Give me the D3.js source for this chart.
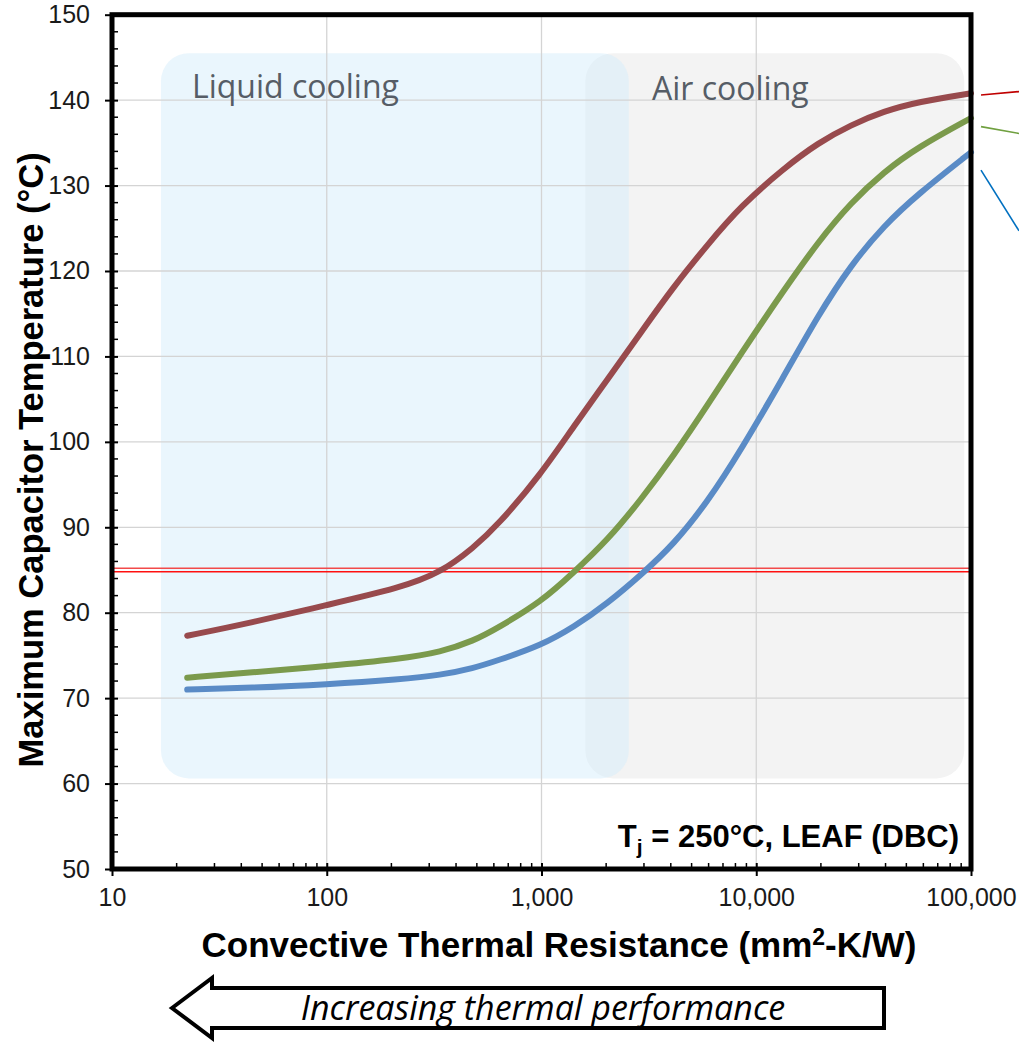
<!DOCTYPE html>
<html><head><meta charset="utf-8">
<script src="https://cdn.jsdelivr.net/npm/d3@7/dist/d3.min.js"></script>
<style>
body{margin:0;background:#fff;}
svg{display:block;}
</style></head>
<body>
<svg id="chart" width="1019" height="1044"></svg>
<script>
// ---- data ----
const xValues = [22.4, 44, 100, 220, 340, 482, 624, 1000, 1410, 2030, 2900, 4130, 5940, 8470, 13400, 19400, 27600, 39300, 56600, 100000];
const redSeries   = [77.3, 78.8, 80.9, 82.9, 84.7, 87.6, 90.2, 96.3, 101.8, 107.3, 112.8, 118.2, 123.1, 127.6, 132.0, 135.0, 137.1, 138.7, 139.8, 140.8];
const greenSeries = [72.4, 73.0, 73.75, 74.6, 75.4, 76.7, 78.2, 81.3, 84.7, 88.5, 93.2, 98.4, 104.3, 110.3, 117.7, 123.4, 128.0, 131.6, 134.5, 137.9];
const blueSeries  = [71.0, 71.2, 71.6, 72.2, 72.7, 73.5, 74.4, 76.2, 78.3, 81.1, 84.4, 88.0, 93.0, 99.0, 107.6, 114.8, 120.7, 125.3, 129.0, 133.9];
const limitValue = 85;
const yTicks = [50, 60, 70, 80, 90, 100, 110, 120, 130, 140, 150];
const yMinorTicks = d3.range(50, 150, 2).filter(v => v % 10 !== 0);
const xTicks = [10, 100, 1000, 10000, 100000];
const xTickLabels = ["10", "100", "1,000", "10,000", "100,000"];
const regions = [
  {label: "Liquid cooling", from: 16.9, to: 2550},
  {label: "Air cooling", from: 1600, to: 93000}
];

// ---- scales ----
const svg = d3.select("#chart");
const L = 112, R = 971, T = 14.7, B = 869;
const x = d3.scaleLog().domain([10, 100000]).range([L, R]);
const y = d3.scaleLinear().domain([50, 150]).range([B, T]);

// ---- shaded regions ----
const regTop = y(145.5), regBot = y(60.6);
svg.append("rect")
  .attr("x", x(regions[1].from)).attr("y", regTop)
  .attr("width", x(regions[1].to) - x(regions[1].from)).attr("height", regBot - regTop)
  .attr("rx", 28).attr("fill", "#f3f3f3");
svg.append("rect")
  .attr("x", x(regions[0].from)).attr("y", regTop)
  .attr("width", x(regions[0].to) - x(regions[0].from)).attr("height", regBot - regTop)
  .attr("rx", 28).attr("fill", "#d6eefc").attr("opacity", 0.5);

// ---- grid ----
const grid = svg.append("g");
grid.selectAll("line.h").data(yTicks).join("line")
  .attr("x1", L).attr("x2", R).attr("y1", d => y(d)).attr("y2", d => y(d))
  .attr("stroke", "#d4d4d4").attr("stroke-width", 1.3);
grid.selectAll("line.v").data(xTicks).join("line")
  .attr("y1", T).attr("y2", B).attr("x1", d => x(d)).attr("x2", d => x(d))
  .attr("stroke", "#d4d4d4").attr("stroke-width", 1.3);

// region labels
svg.append("text").attr("x", x(regions[0].from) + 31).attr("y", y(140) - 2)
  .attr("font-family", "Open Sans").attr("font-size", 32).attr("fill", "#565d66")
  .text(regions[0].label);
svg.append("text").attr("x", 652).attr("y", y(140))
  .attr("font-family", "Open Sans").attr("font-size", 32).attr("fill", "#565d66")
  .text(regions[1].label);

// ---- 85 °C limit double line ----
svg.append("line").attr("x1", L).attr("x2", R + 2)
  .attr("y1", y(limitValue) - 1.7).attr("y2", y(limitValue) - 1.7)
  .attr("stroke", "#f24a4a").attr("stroke-width", 1.5);
svg.append("line").attr("x1", L).attr("x2", R + 2)
  .attr("y1", y(limitValue) + 1.7).attr("y2", y(limitValue) + 1.7)
  .attr("stroke", "#ff1010").attr("stroke-width", 1.5);

// ---- curves ----
const line = d3.line().x(d => x(d[0])).y(d => y(d[1])).curve(d3.curveBasis);
const series = [
  {vals: redSeries, color: "#984a4d"},
  {vals: greenSeries, color: "#7b9a4c"},
  {vals: blueSeries, color: "#5a8bc6"}
];
series.forEach(s => {
  svg.append("path").datum(xValues.map((v, i) => [v, s.vals[i]]))
    .attr("d", line).attr("fill", "none").attr("stroke", s.color)
    .attr("stroke-width", 6).attr("stroke-linecap", "round").attr("stroke-linejoin", "round");
});

// ---- leader lines (right, cut off) ----
const leaders = [
  {y0: 140.6, y1: 141.0, color: "#c00000"},
  {y0: 136.9, y1: 136.1, color: "#70a040"},
  {y0: 131.8, y1: 124.7, color: "#0070c0"}
];
leaders.forEach(l => {
  svg.append("line").attr("x1", R + 10).attr("x2", 1019)
    .attr("y1", y(l.y0)).attr("y2", y(l.y1))
    .attr("stroke", l.color).attr("stroke-width", 1.6);
});

// ---- axes ----
const yAxis = svg.append("g").attr("transform", `translate(${L},0)`)
  .call(d3.axisLeft(y).tickValues(yTicks).tickSize(0).tickPadding(22).tickFormat(d3.format("d")));
yAxis.select(".domain").remove();
yAxis.selectAll("text").attr("font-family", "Liberation Sans, Arial").attr("font-size", 25).attr("fill", "#1a1a1a");
yAxis.selectAll(".tick").append("line").attr("x1", -7).attr("x2", 6).attr("stroke", "#000").attr("stroke-width", 2);
svg.append("g").selectAll("line").data(yMinorTicks).join("line")
  .attr("x1", L).attr("x2", L + 6).attr("y1", d => y(d)).attr("y2", d => y(d))
  .attr("stroke", "#000").attr("stroke-width", 1.5);

const xAxis = svg.append("g").attr("transform", `translate(0,${B})`)
  .call(d3.axisBottom(x).tickValues(xTicks).tickSize(0).tickPadding(19).tickFormat((d, i) => xTickLabels[i]));
xAxis.select(".domain").remove();
xAxis.selectAll("text").attr("font-family", "Liberation Sans, Arial").attr("font-size", 25).attr("fill", "#1a1a1a");
xAxis.selectAll(".tick").append("line").attr("y1", -6).attr("y2", 7).attr("stroke", "#000").attr("stroke-width", 2);
const xMinor = [];
[10, 100, 1000, 10000].forEach(dec => { for (let k = 2; k <= 9; k++) xMinor.push(dec * k); });
svg.append("g").selectAll("line").data(xMinor).join("line")
  .attr("x1", d => x(d)).attr("x2", d => x(d)).attr("y1", B).attr("y2", B - 6)
  .attr("stroke", "#000").attr("stroke-width", 1.5);

// frame
svg.append("rect").attr("x", L).attr("y", T).attr("width", R - L).attr("height", B - T)
  .attr("fill", "none").attr("stroke", "#000").attr("stroke-width", 5);

// ---- annotation ----
const ann = svg.append("text").attr("x", R - 12).attr("y", y(50) - 22).attr("text-anchor", "end")
  .attr("font-family", "Liberation Sans, Arial").attr("font-weight", "bold").attr("font-size", 31).attr("fill", "#000");
ann.append("tspan").text("T");
ann.append("tspan").attr("dy", 7).attr("font-size", 21).text("j");
ann.append("tspan").attr("dy", -7).text(" = 250°C, LEAF (DBC)");

// ---- axis titles ----
svg.append("text").attr("transform", `translate(43,${(T + B) / 2 + 18}) rotate(-90)`)
  .attr("text-anchor", "middle").attr("font-family", "Liberation Sans, Arial").attr("font-weight", "bold")
  .attr("font-size", 34.5).attr("fill", "#000").text("Maximum Capacitor Temperature (°C)");
const xt = svg.append("text").attr("x", 559).attr("y", 957).attr("text-anchor", "middle")
  .attr("font-family", "Liberation Sans, Arial").attr("font-weight", "bold").attr("font-size", 35).attr("fill", "#000");
xt.append("tspan").text("Convective Thermal Resistance (mm");
xt.append("tspan").attr("dy", -12).attr("font-size", 23).text("2");
xt.append("tspan").attr("dy", 12).text("-K/W)");

// ---- arrow ----
const ax0 = 172, ax1 = 884, ay = 1008, headX = 212, shaftH = 20, headH = 30;
const arrowPts = [[ax0, ay], [headX, ay - headH], [headX, ay - shaftH], [ax1, ay - shaftH], [ax1, ay + shaftH], [headX, ay + shaftH], [headX, ay + headH]];
svg.append("path").attr("d", d3.line()(arrowPts) + "Z")
  .attr("fill", "#fff").attr("stroke", "#000").attr("stroke-width", 4).attr("stroke-linejoin", "miter");
svg.append("text").attr("x", 543).attr("y", 1020).attr("text-anchor", "middle")
  .attr("font-family", "Open Sans").attr("font-style", "italic").attr("font-size", 34).attr("fill", "#000")
  .text("Increasing thermal performance");
</script>
</body></html>
